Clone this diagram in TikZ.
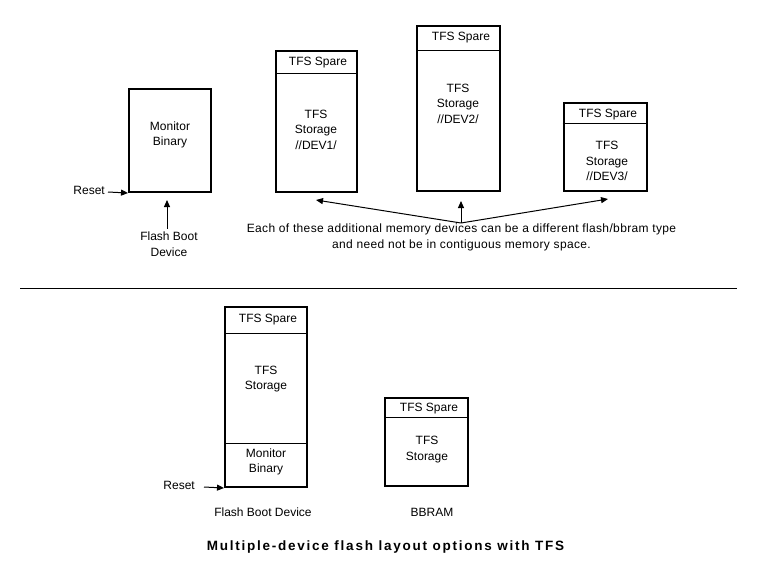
\documentclass[tikz,border=0pt]{standalone}
\usepackage{fontspec}
\setmainfont{Liberation Sans}
\newfontfamily\noteFont[LetterSpace=3]{Liberation Sans}
\newfontfamily\titleFont[LetterSpace=13]{Liberation Sans}
\usetikzlibrary{arrows.meta}
\begin{document}
\begin{tikzpicture}[x=1pt,y=-1pt,
  memoryBox/.style={draw, line width=2pt, inner sep=0pt},
  divLine/.style={line width=1pt},
  lbl/.style={font=\fontsize{12}{15.5}\selectfont, align=center, inner sep=0pt},
  noteText/.style={font=\noteFont\fontsize{12}{16}\selectfont, align=center, inner sep=0pt},
  conn/.style={line width=1pt, -{Triangle[length=7pt,width=6pt]}},
  titleText/.style={font=\titleFont\fontsize{13.5}{17}\selectfont\bfseries, inner sep=0pt}]
\useasboundingbox (0,0) rectangle (768,576);

% ---- top: Monitor binary box
\node[memoryBox, minimum width=82pt, minimum height=103pt] (mon) at (170,140.5) {};
\node[lbl] (monT) at (170,135) {Monitor\\Binary};
\node[lbl, anchor=east] (resetA) at (105,190) {Reset};
\draw[conn] (resetA.east) ++(3,2) coordinate (rsA) -- (mon.south west);
\node[lbl] (fbd) at (169,244) {Flash Boot\\Device};
\draw[conn] (fbd.north -| 167,0) ++(0,-3) coordinate (fbA) -- (167,200) coordinate (fbB);

% ---- DEV1
\node[memoryBox, minimum width=81pt, minimum height=141pt] (d1) at (316.5,121.5) {};
\draw[divLine] (d1.west |- 0,73) coordinate (d1a) -- (d1.east |- 0,73) coordinate (d1b);
\node[lbl] (d1s) at (318,63) {TFS Spare};
\node[lbl] (d1t) at (316,129.5) {TFS\\Storage\\//DEV1/};

% ---- DEV2
\node[memoryBox, minimum width=83pt, minimum height=165pt] (d2) at (458.5,108.5) {};
\draw[divLine] (d2.west |- 0,50) coordinate (d2a) -- (d2.east |- 0,50) coordinate (d2b);
\node[lbl] (d2s) at (461,38) {TFS Spare};
\node[lbl] (d2t) at (458,103.5) {TFS\\Storage\\//DEV2/};

% ---- DEV3
\node[memoryBox, minimum width=83pt, minimum height=88pt] (d3) at (605,147) {};
\draw[divLine] (d3.west |- 0,123) coordinate (d3a) -- (d3.east |- 0,123) coordinate (d3b);
\node[lbl] (d3s) at (608,114.5) {TFS Spare};
\node[lbl] (d3t) at (607,161) {TFS\\Storage\\//DEV3/};

% ---- note and arrows
\node[noteText] (note) at (461.5,237) {Each of these additional memory devices can be a different flash/bbram type\\and need not be in contiguous memory space.};
\coordinate (apex) at (461,223);
\draw[conn] (apex) -- (316,200) coordinate (tip1);
\draw[conn] (apex) -- (461,201) coordinate (tip2);
\draw[conn] (apex) -- (608,199) coordinate (tip3);

% ---- separator
\coordinate (sepL) at (20,288);
\coordinate (sepR) at (737,288);
\draw[divLine] (sepL) -- (sepR);

% ---- bottom: flash boot device
\node[memoryBox, minimum width=82pt, minimum height=180pt] (fb) at (266,397) {};
\draw[divLine] (fb.west |- 0,333) coordinate (fba) -- (fb.east |- 0,333) coordinate (fbb);
\draw[divLine] (fb.west |- 0,443) coordinate (fbc) -- (fb.east |- 0,443) coordinate (fbd2);
\node[lbl] (fbs) at (268,319.5) {TFS Spare};
\node[lbl] (fbt) at (266,379) {TFS\\Storage};
\node[lbl] (fbm) at (266,462) {Monitor\\Binary};
\node[lbl, anchor=east] (resetB) at (195,485) {Reset};
\draw[conn] (resetB.east) ++(9,2) coordinate (rsB) -- (fb.south west);
\node[lbl] (fbl) at (263,512) {Flash Boot Device};

% ---- bottom: BBRAM
\node[memoryBox, minimum width=83pt, minimum height=88pt] (bb) at (426.5,442) {};
\draw[divLine] (bb.west |- 0,417) coordinate (bba) -- (bb.east |- 0,417) coordinate (bbb);
\node[lbl] (bbs) at (429,409) {TFS Spare};
\node[lbl] (bbt) at (427,449.5) {TFS\\Storage};
\node[lbl] (bbl) at (432,512) {BBRAM};

% ---- title
\node[titleText] (title) at (385.5,547) {Multiple-device flash layout options with TFS};
\end{tikzpicture}
\end{document}
